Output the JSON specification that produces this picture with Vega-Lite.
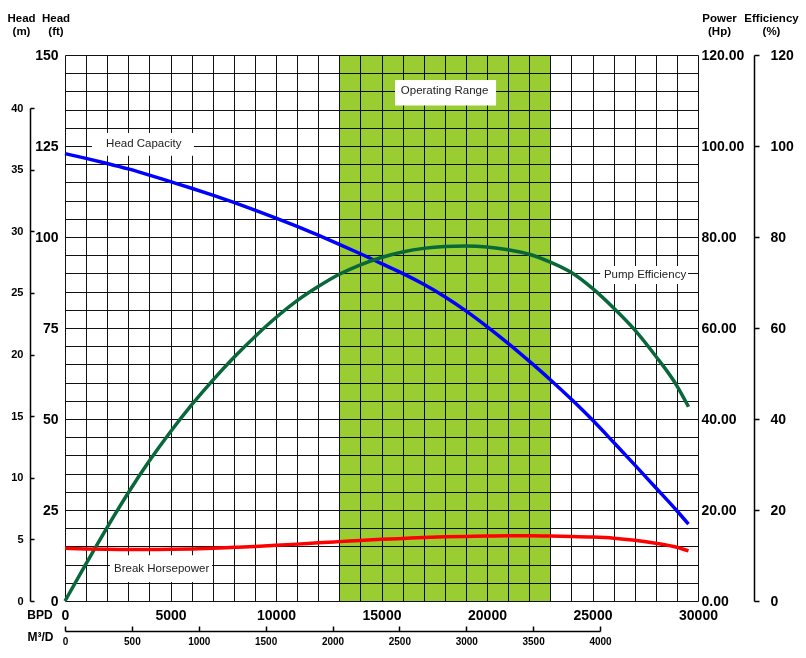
{
  "$schema": "https://vega.github.io/schema/vega-lite/v6.json",
  "width": 633,
  "height": 546,
  "autosize": {"type": "none"},
  "padding": {"left": 65, "top": 55, "right": 108, "bottom": 57},
  "background": "white",
  "config": {
    "view": {"stroke": null},
    "font": "Liberation Sans",
    "axis": {"labelColor": "black", "titleColor": "black", "labelOverlap": false, "labelFlush": false, "labelFont": "Liberation Sans", "titleFont": "Liberation Sans", "labelFontWeight": "bold", "titleFontWeight": "bold"}
  },
  "datasets": {
    "curves": [
      {"bpd": 0, "head_ft": 122.9, "eff": 0, "hp": 11.6},
      {"bpd": 1000, "head_ft": 121.6, "eff": 8.2, "hp": 11.45},
      {"bpd": 2000, "head_ft": 120.2, "eff": 16.2, "hp": 11.35},
      {"bpd": 3000, "head_ft": 118.7, "eff": 23.8, "hp": 11.3},
      {"bpd": 4000, "head_ft": 117.0, "eff": 30.8, "hp": 11.3},
      {"bpd": 5000, "head_ft": 115.2, "eff": 37.2, "hp": 11.35},
      {"bpd": 6000, "head_ft": 113.4, "eff": 43.1, "hp": 11.45},
      {"bpd": 7000, "head_ft": 111.5, "eff": 48.5, "hp": 11.6},
      {"bpd": 8000, "head_ft": 109.5, "eff": 53.5, "hp": 11.8},
      {"bpd": 9000, "head_ft": 107.4, "eff": 58.1, "hp": 12.0},
      {"bpd": 10000, "head_ft": 105.2, "eff": 62.3, "hp": 12.25},
      {"bpd": 11000, "head_ft": 102.9, "eff": 66.0, "hp": 12.5},
      {"bpd": 12000, "head_ft": 100.5, "eff": 69.1, "hp": 12.8},
      {"bpd": 13000, "head_ft": 98.0, "eff": 71.8, "hp": 13.05},
      {"bpd": 14000, "head_ft": 95.4, "eff": 73.9, "hp": 13.3},
      {"bpd": 15000, "head_ft": 92.7, "eff": 75.5, "hp": 13.55},
      {"bpd": 16000, "head_ft": 90.0, "eff": 76.7, "hp": 13.75},
      {"bpd": 17000, "head_ft": 87.0, "eff": 77.5, "hp": 13.95},
      {"bpd": 18000, "head_ft": 83.6, "eff": 77.9, "hp": 14.1},
      {"bpd": 19000, "head_ft": 79.7, "eff": 78.0, "hp": 14.2},
      {"bpd": 20000, "head_ft": 75.4, "eff": 77.8, "hp": 14.3},
      {"bpd": 21000, "head_ft": 70.8, "eff": 77.2, "hp": 14.35},
      {"bpd": 22000, "head_ft": 65.9, "eff": 76.2, "hp": 14.35},
      {"bpd": 23000, "head_ft": 60.8, "eff": 74.5, "hp": 14.3},
      {"bpd": 24000, "head_ft": 55.4, "eff": 72.2, "hp": 14.2},
      {"bpd": 25000, "head_ft": 49.7, "eff": 68.7, "hp": 14.05},
      {"bpd": 26000, "head_ft": 43.6, "eff": 64.4, "hp": 13.8},
      {"bpd": 27000, "head_ft": 37.4, "eff": 59.6, "hp": 13.35},
      {"bpd": 28000, "head_ft": 31.1, "eff": 53.8, "hp": 12.7},
      {"bpd": 29000, "head_ft": 24.8, "eff": 47.3, "hp": 11.8},
      {"bpd": 29550, "head_ft": 21.1, "eff": 42.7, "hp": 11.0}
    ],
    "range": [{"start": 13000, "end": 23000}],
    "labels": [
      {"label": "Operating Range", "bx0": 15640, "bx1": 20430, "by0": 136.1, "by1": 143.1, "tx": 17990, "ty": 140.1},
      {"label": "Head Capacity", "bx0": 1280, "bx1": 6110, "by0": 122.3, "by1": 128.6, "tx": 3735, "ty": 125.5},
      {"label": "Pump Efficiency", "bx0": 25360, "bx1": 29530, "by0": 87.1, "by1": 92.0, "tx": 27490, "ty": 89.6},
      {"label": "Break Horsepower", "bx0": 2130, "bx1": 6970, "by0": 5.2, "by1": 12.6, "tx": 4580, "ty": 8.8}
    ]
  },
  "layer": [
    {
      "data": {"name": "range"},
      "mark": {"type": "rect", "fill": "#9acd32", "blend": "multiply"},
      "encoding": {
        "x": {"field": "start", "type": "quantitative", "scale": {"domain": [0, 30000], "nice": false}, "axis": null},
        "x2": {"field": "end"}
      }
    },
    {
      "data": {"name": "labels"},
      "mark": {"type": "rect", "fill": "white"},
      "encoding": {
        "x": {"field": "bx0", "type": "quantitative", "scale": {"domain": [0, 30000], "nice": false}, "axis": null},
        "x2": {"field": "bx1"},
        "y": {"field": "by0", "type": "quantitative", "scale": {"domain": [0, 150], "nice": false}, "axis": null},
        "y2": {"field": "by1"}
      }
    },
    {
      "data": {"name": "labels"},
      "mark": {"type": "text", "font": "Liberation Sans", "fontSize": 11.5, "color": "#222222", "align": "center", "baseline": "middle"},
      "encoding": {
        "x": {"field": "tx", "type": "quantitative", "scale": {"domain": [0, 30000], "nice": false}, "axis": null},
        "y": {"field": "ty", "type": "quantitative", "scale": {"domain": [0, 150], "nice": false}, "axis": null},
        "text": {"field": "label", "type": "nominal"}
      }
    },
    {
      "data": {"name": "curves"},
      "mark": {"type": "line", "color": "#0000ff", "strokeWidth": 3.5, "interpolate": "monotone"},
      "encoding": {
        "x": {"field": "bpd", "type": "quantitative", "scale": {"domain": [0, 30000], "nice": false},
          "axis": {"values": [0,1000,2000,3000,4000,5000,6000,7000,8000,9000,10000,11000,12000,13000,14000,15000,16000,17000,18000,19000,20000,21000,22000,23000,24000,25000,26000,27000,28000,29000,30000],
            "format": "d", "labelExpr": "datum.value % 5000 == 0 ? datum.label : ''",
            "grid": true, "gridColor": "#111111", "gridWidth": 1, "gridOpacity": 1, "ticks": false, "domain": false,
            "labelFontSize": 14, "labelPadding": 7,
            "title": "BPD", "titleFontSize": 12, "titleX": -25.5, "titleY": 13, "titleAlign": "center", "titleBaseline": "middle"}},
        "y": {"field": "head_ft", "type": "quantitative", "scale": {"domain": [0, 150], "nice": false},
          "axis": {"orient": "left", "values": [0,5,10,15,20,25,30,35,40,45,50,55,60,65,70,75,80,85,90,95,100,105,110,115,120,125,130,135,140,145,150],
            "format": "d", "labelExpr": "datum.value % 25 == 0 ? datum.label : ''",
            "grid": true, "gridColor": "#111111", "gridWidth": 1, "gridOpacity": 1, "ticks": false, "domain": false,
            "labelFontSize": 14, "labelPadding": 7,
            "title": ["Head", "(ft)"], "titleFontSize": 11.5, "titleLineHeight": 13, "titleAngle": 0, "titleX": -9.5, "titleY": -43, "titleAlign": "center", "titleBaseline": "top"}}
      }
    },
    {
      "data": {"name": "curves"},
      "mark": {"type": "line", "color": "#08683a", "strokeWidth": 3.5, "interpolate": "monotone"},
      "encoding": {
        "x": {"field": "bpd", "type": "quantitative", "scale": {"domain": [0, 30000], "nice": false}, "axis": null},
        "y": {"field": "eff", "type": "quantitative", "scale": {"domain": [0, 120], "nice": false},
          "axis": {"orient": "right", "offset": 56, "values": [0, 20, 40, 60, 80, 100, 120], "format": "d",
            "grid": false, "domain": true, "domainColor": "black", "domainWidth": 1.5, "ticks": true, "tickColor": "black", "tickWidth": 1.5, "tickSize": 5,
            "labelFontSize": 14, "labelPadding": 11,
            "title": ["Efficiency", "(%)"], "titleFontSize": 11.5, "titleLineHeight": 13, "titleAngle": 0, "titleX": 17, "titleY": -43, "titleAlign": "center", "titleBaseline": "top"}}
      }
    },
    {
      "data": {"name": "curves"},
      "mark": {"type": "line", "color": "#ff0000", "strokeWidth": 3.5, "interpolate": "monotone"},
      "encoding": {
        "x": {"field": "bpd", "type": "quantitative", "scale": {"domain": [0, 30000], "nice": false}, "axis": null},
        "y": {"field": "hp", "type": "quantitative", "scale": {"domain": [0, 120], "nice": false},
          "axis": {"orient": "right", "offset": 0, "values": [0, 20, 40, 60, 80, 100, 120], "format": ".2f",
            "grid": false, "domain": false, "ticks": false,
            "labelFontSize": 14, "labelPadding": 3,
            "title": ["Power", "(Hp)"], "titleFontSize": 11.5, "titleLineHeight": 13, "titleAngle": 0, "titleX": 21, "titleY": -43, "titleAlign": "center", "titleBaseline": "top"}}
      }
    },
    {
      "mark": {"type": "point", "opacity": 0},
      "encoding": {
        "y": {"datum": 0, "type": "quantitative", "scale": {"domain": [0, 40], "range": [546, 53], "nice": false},
          "axis": {"orient": "left", "offset": 35, "values": [0, 5, 10, 15, 20, 25, 30, 35, 40], "format": "d",
            "grid": false, "domain": true, "domainColor": "black", "domainWidth": 1.5, "ticks": true, "tickColor": "black", "tickWidth": 1.5, "tickSize": -4,
            "labelFontSize": 11, "labelPadding": 11,
            "title": ["Head", "(m)"], "titleFontSize": 11.5, "titleLineHeight": 13, "titleAngle": 0, "titleX": -9, "titleY": -43, "titleAlign": "center", "titleBaseline": "top"}}
      }
    },
    {
      "mark": {"type": "point", "opacity": 0},
      "encoding": {
        "x": {"datum": 0, "type": "quantitative", "scale": {"domain": [0, 4000], "range": [0, 535], "nice": false},
          "axis": {"orient": "bottom", "offset": 30, "values": [0, 500, 1000, 1500, 2000, 2500, 3000, 3500, 4000], "format": "d",
            "grid": false, "domain": true, "domainColor": "black", "domainWidth": 1.5, "ticks": true, "tickColor": "black", "tickWidth": 1.5, "tickSize": -5,
            "labelFontSize": 10, "labelPadding": 10,
            "title": "M³/D", "titleFontSize": 12, "titleX": -25, "titleY": 5, "titleAlign": "center", "titleBaseline": "middle"}}
      }
    }
  ],
  "resolve": {"scale": {"x": "independent", "y": "independent"}, "axis": {"x": "independent", "y": "independent"}}
}
